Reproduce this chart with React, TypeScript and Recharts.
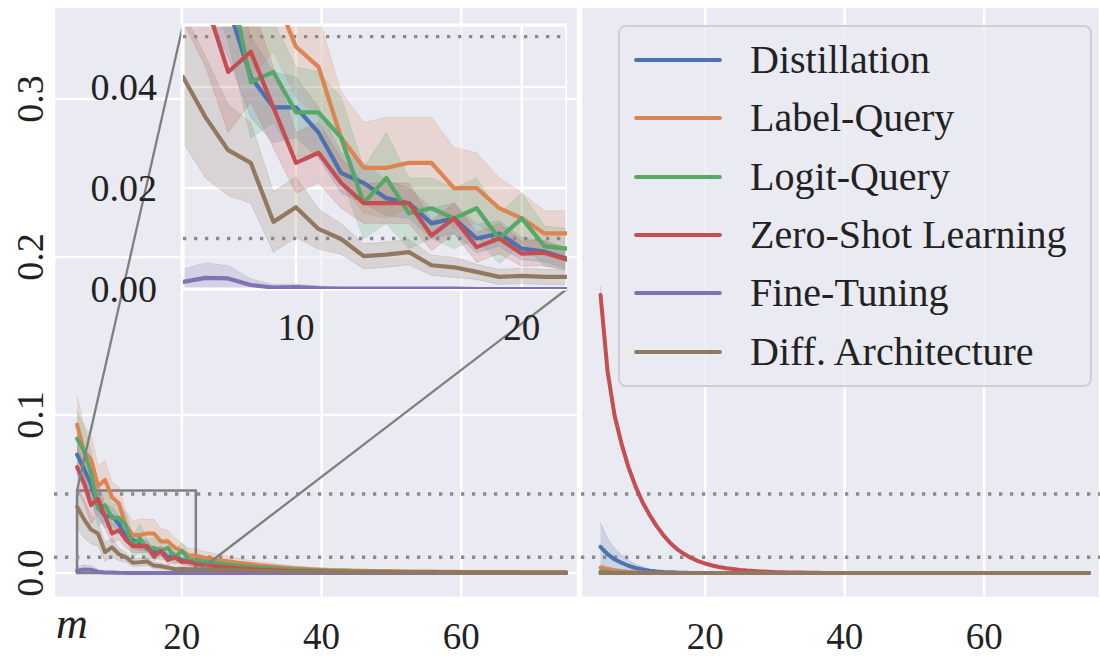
import React from "react";
import {
  ComposedChart,
  Line,
  Area,
  XAxis,
  YAxis,
  CartesianGrid,
  ReferenceLine,
  ReferenceArea,
} from "recharts";

// number of queries m (5 .. 75)
const mValues = [
  5, 6, 7, 8, 9, 10, 11, 12, 13, 14, 15, 16, 17, 18, 19, 20, 21, 22,
  23, 24, 25, 26, 27, 28, 29, 30, 31, 32, 33, 34, 35, 36, 37, 38, 39, 40,
  41, 42, 43, 44, 45, 46, 47, 48, 49, 50, 51, 52, 53, 54, 55, 56, 57, 58,
  59, 60, 61, 62, 63, 64, 65, 66, 67, 68, 69, 70, 71, 72, 73, 74, 75,
];

// ---- left panel: means ----
const distillation = [
  .075, .066, .056, .042, .036, .036, .031, .023, .021, .018, .017, .013, .014, .010, .011, .008, .0074, .006,
  .0055, .005, .0045, .004, .0036, .0032, .0029, .0026, .0023, .002, .0018, .0016, .0014, .0013, .0012, .0011, .001, .0009,
  .0008, .0008, .0007, .0007, .0006, .0006, .0005, .0005, .0005, .0004, .0004, .0004, .0003, .0003, .0003, .0003, .0003, .0002,
  .0002, .0002, .0002, .0002, .0002, .0002, .0001, .0001, .0001, .0001, .0001, .0001, .0001, .0001, .0001, .0001, .0001,
];
const labelQuery = [
  .094, .077, .072, .055, .059, .048, .044, .030, .024, .024, .025, .025, .020, .020, .016, .014, .011, .011,
  .0098, .0092, .0085, .0078, .0072, .0065, .006, .0055, .005, .0046, .0042, .0038, .0034, .003, .0028, .0025, .0023, .0021,
  .0019, .0018, .0017, .0016, .0015, .0014, .0013, .0012, .0012, .0011, .0011, .001, .001, .0009, .0009, .0009, .0008, .0008,
  .0008, .0007, .0007, .0007, .0007, .0006, .0006, .0006, .0006, .0006, .0005, .0005, .0005, .0005, .0005, .0005, .0005,
];
const logitQuery = [
  .085, .077, .063, .041, .043, .035, .035, .030, .017, .022, .015, .016, .014, .016, .010, .014, .0085, .008,
  .0075, .007, .0064, .0058, .0053, .0048, .0044, .004, .0036, .0033, .003, .0027, .0025, .0023, .0021, .0019, .0017, .0015,
  .0014, .0013, .0012, .0011, .001, .001, .0009, .0009, .0008, .0008, .0007, .0007, .0007, .0006, .0006, .0006, .0005, .0005,
  .0005, .0005, .0004, .0004, .0004, .0004, .0004, .0003, .0003, .0003, .0003, .0003, .0003, .0003, .0003, .0003, .0003,
];
const zeroShot = [
  .067, .057, .043, .047, .036, .025, .027, .021, .017, .017, .017, .0106, .014, .0083, .010, .007, .0072, .0058,
  .0052, .0048, .0043, .0039, .0035, .0031, .0028, .0025, .0022, .002, .0018, .0016, .0014, .0013, .0012, .0011, .001, .0009,
  .0008, .0008, .0007, .0007, .0006, .0006, .0006, .0005, .0005, .0005, .0004, .0004, .0004, .0004, .0003, .0003, .0003, .0003,
  .0003, .0003, .0002, .0002, .0002, .0002, .0002, .0002, .0002, .0002, .0002, .0002, .0002, .0002, .0002, .0002, .0002,
];
const fineTuning = [
  .0014, .0022, .0021, .0008, .0003, .0004, .0002, .0001, .0001, .0001, .0001, .0001, .0001, 0, 0, 0, 0, 0,
  0, 0, 0, 0, 0, 0, 0, 0, 0, 0, 0, 0, 0, 0, 0, 0, 0, 0,
  0, 0, 0, 0, 0, 0, 0, 0, 0, 0, 0, 0, 0, 0, 0, 0, 0, 0,
  0, 0, 0, 0, 0, 0, 0, 0, 0, 0, 0, 0, 0, 0, 0, 0, 0,
];
const diffArch = [
  .042, .034, .0275, .025, .0133, .0162, .0119, .0099, .0065, .0068, .0073, .0047, .0043, .0034, .0024, .0026, .0024, .0024,
  .0022, .0021, .002, .0019, .0018, .0017, .0016, .0015, .0014, .0013, .0012, .0011, .001, .0009, .0009, .0008, .0008, .0007,
  .0007, .0006, .0006, .0006, .0005, .0005, .0005, .0004, .0004, .0004, .0004, .0003, .0003, .0003, .0003, .0003, .0003, .0002,
  .0002, .0002, .0002, .0002, .0002, .0002, .0002, .0002, .0002, .0002, .0002, .0002, .0002, .0002, .0002, .0002, .0002,
];

// ---- left panel: band half-widths ----
const distSpread = [
  .013, .012, .010, .008, .007, .006, .005, .004, .004, .0035, .003, .003, .003, .0028, .0025, .0022, .002, .002,
  .0018, .0017, .0016, .0015, .0014, .0013, .0012, .0011, .001, .0009, .0008, .0008, .0007, .0007, .0006, .0006, .0005, .0005,
  .0004, .0004, .0004, .0004, .0003, .0003, .0003, .0003, .0003, .0003, .0002, .0002, .0002, .0002, .0002, .0002, .0002, .0002,
  .0002, .0002, .0001, .0001, .0001, .0001, .0001, .0001, .0001, .0001, .0001, .0001, .0001, .0001, .0001, .0001, .0001,
];
const labelSpread = [
  .018, .016, .015, .013, .012, .010, .010, .009, .009, .010, .009, .009, .008, .007, .006, .005, .0045, .0045,
  .004, .0038, .0035, .0032, .003, .0028, .0026, .0024, .0022, .002, .0019, .0018, .0017, .0016, .0015, .0014, .0013, .0012,
  .0011, .0011, .001, .001, .0009, .0009, .0009, .0008, .0008, .0008, .0007, .0007, .0007, .0006, .0006, .0006, .0006, .0005,
  .0005, .0005, .0005, .0005, .0005, .0005, .0005, .0005, .0005, .0005, .0005, .0005, .0005, .0005, .0005, .0005, .0005,
];
const logitSpread = [
  .018, .016, .014, .011, .010, .009, .008, .008, .007, .009, .007, .006, .006, .006, .005, .005, .004, .004,
  .0036, .0033, .003, .0028, .0026, .0024, .0022, .002, .0019, .0018, .0017, .0016, .0015, .0014, .0013, .0012, .0011, .001,
  .001, .0009, .0009, .0008, .0008, .0008, .0007, .0007, .0007, .0006, .0006, .0006, .0005, .0005, .0005, .0005, .0005, .0004,
  .0004, .0004, .0004, .0004, .0004, .0004, .0004, .0004, .0004, .0004, .0004, .0004, .0004, .0004, .0004, .0004, .0004,
];
const zeroSpread = [
  .014, .013, .012, .010, .008, .006, .006, .005, .004, .004, .004, .003, .003, .003, .003, .0025, .0025, .0022,
  .002, .0019, .0018, .0017, .0016, .0015, .0014, .0013, .0012, .0011, .001, .0009, .0008, .0008, .0007, .0007, .0006, .0006,
  .0005, .0005, .0005, .0005, .0004, .0004, .0004, .0004, .0004, .0003, .0003, .0003, .0003, .0003, .0003, .0002, .0002, .0002,
  .0002, .0002, .0002, .0002, .0002, .0002, .0002, .0002, .0002, .0002, .0002, .0002, .0002, .0002, .0002, .0002, .0002,
];
const fineSpread = [
  .0025, .003, .0025, .0012, .0006, .0006, .0004, .0002, .0002, .0002, .0001, .0001, .0001, .0001, 0, 0, 0, 0,
  0, 0, 0, 0, 0, 0, 0, 0, 0, 0, 0, 0, 0, 0, 0, 0, 0, 0,
  0, 0, 0, 0, 0, 0, 0, 0, 0, 0, 0, 0, 0, 0, 0, 0, 0, 0,
  0, 0, 0, 0, 0, 0, 0, 0, 0, 0, 0, 0, 0, 0, 0, 0, 0,
];
const diffSpread = [
  .013, .012, .009, .008, .006, .006, .004, .003, .0025, .0025, .0025, .002, .002, .0015, .0015, .0015, .0015, .0015,
  .0014, .0013, .0012, .0011, .001, .001, .0009, .0009, .0008, .0008, .0007, .0007, .0006, .0006, .0006, .0005, .0005, .0005,
  .0004, .0004, .0004, .0004, .0003, .0003, .0003, .0003, .0003, .0003, .0003, .0002, .0002, .0002, .0002, .0002, .0002, .0002,
  .0002, .0002, .0002, .0002, .0002, .0002, .0002, .0002, .0002, .0002, .0002, .0002, .0002, .0002, .0002, .0002, .0002,
];

// ---- right panel: means ----
const rDistillation = [
  .0166, .012, .0087, .0065, .0046, .0032, .0022, .0014, .001, .0007, .0005, .0003, .0002, .0001, .0001, 0, 0, 0,
  0, 0, 0, 0, 0, 0, 0, 0, 0, 0, 0, 0, 0, 0, 0, 0, 0, 0,
  0, 0, 0, 0, 0, 0, 0, 0, 0, 0, 0, 0, 0, 0, 0, 0, 0, 0,
  0, 0, 0, 0, 0, 0, 0, 0, 0, 0, 0, 0, 0, 0, 0, 0, 0,
];
const rLabelQuery = [
  .0035, .0025, .0018, .0012, .0008, .0005, .0003, .0002, .0001, 0, 0, 0, 0, 0, 0, 0, 0, 0,
  0, 0, 0, 0, 0, 0, 0, 0, 0, 0, 0, 0, 0, 0, 0, 0, 0, 0,
  0, 0, 0, 0, 0, 0, 0, 0, 0, 0, 0, 0, 0, 0, 0, 0, 0, 0,
  0, 0, 0, 0, 0, 0, 0, 0, 0, 0, 0, 0, 0, 0, 0, 0, 0,
];
const rLogitQuery = [
  .0012, .0008, .0005, .0003, .0002, .0001, 0, 0, 0, 0, 0, 0, 0, 0, 0, 0, 0, 0,
  0, 0, 0, 0, 0, 0, 0, 0, 0, 0, 0, 0, 0, 0, 0, 0, 0, 0,
  0, 0, 0, 0, 0, 0, 0, 0, 0, 0, 0, 0, 0, 0, 0, 0, 0, 0,
  0, 0, 0, 0, 0, 0, 0, 0, 0, 0, 0, 0, 0, 0, 0, 0, 0,
];
const rZeroShot = [
  .176, .128, .100, .082, .067, .055, .045, .037, .030, .024, .019, .015, .012, .0095, .0075, .006, .0048, .0038,
  .003, .0025, .002, .0016, .0013, .001, .0008, .0006, .0005, .0004, .0003, .0003, .0002, .0002, .0001, .0001, .0001, .0001,
  0, 0, 0, 0, 0, 0, 0, 0, 0, 0, 0, 0, 0, 0, 0, 0, 0, 0,
  0, 0, 0, 0, 0, 0, 0, 0, 0, 0, 0, 0, 0, 0, 0, 0, 0,
];
const rFlat = [
  0, 0, 0, 0, 0, 0, 0, 0, 0, 0, 0, 0, 0, 0, 0, 0, 0, 0,
  0, 0, 0, 0, 0, 0, 0, 0, 0, 0, 0, 0, 0, 0, 0, 0, 0, 0,
  0, 0, 0, 0, 0, 0, 0, 0, 0, 0, 0, 0, 0, 0, 0, 0, 0, 0,
  0, 0, 0, 0, 0, 0, 0, 0, 0, 0, 0, 0, 0, 0, 0, 0, 0,
];

// ---- right panel: band half-widths ----
const rDistSpread = [
  .015, .010, .007, .005, .0035, .0025, .0018, .0012, .0008, .0005, .0004, .0003, .0002, .0001, .0001, 0, 0, 0,
  0, 0, 0, 0, 0, 0, 0, 0, 0, 0, 0, 0, 0, 0, 0, 0, 0, 0,
  0, 0, 0, 0, 0, 0, 0, 0, 0, 0, 0, 0, 0, 0, 0, 0, 0, 0,
  0, 0, 0, 0, 0, 0, 0, 0, 0, 0, 0, 0, 0, 0, 0, 0, 0,
];
const rLabelSpread = [
  .002, .0015, .001, .0008, .0005, .0003, .0002, .0001, 0, 0, 0, 0, 0, 0, 0, 0, 0, 0,
  0, 0, 0, 0, 0, 0, 0, 0, 0, 0, 0, 0, 0, 0, 0, 0, 0, 0,
  0, 0, 0, 0, 0, 0, 0, 0, 0, 0, 0, 0, 0, 0, 0, 0, 0, 0,
  0, 0, 0, 0, 0, 0, 0, 0, 0, 0, 0, 0, 0, 0, 0, 0, 0,
];
const rZeroSpread = [
  .006, .005, .004, .0035, .003, .0025, .002, .0015, .0015, .001, .001, .001, .0008, .0006, .0005, .0004, .0003, .0003,
  .0002, .0002, .0002, .0001, .0001, .0001, 0, 0, 0, 0, 0, 0, 0, 0, 0, 0, 0, 0,
  0, 0, 0, 0, 0, 0, 0, 0, 0, 0, 0, 0, 0, 0, 0, 0, 0, 0,
  0, 0, 0, 0, 0, 0, 0, 0, 0, 0, 0, 0, 0, 0, 0, 0, 0,
];

const xTicks = [20, 40, 60];
const yTicks = [0, 0.1, 0.2, 0.3];
const insetXTicks = [10, 20];
const insetYTicks = [0, 0.02, 0.04];
const thresholds = [0.05, 0.01];

const SERIES = [
  { key: "dist", name: "Distillation", color: "#4C72B0" },
  { key: "label", name: "Label-Query", color: "#DD8452" },
  { key: "logit", name: "Logit-Query", color: "#55A868" },
  { key: "zero", name: "Zero-Shot Learning", color: "#C44E52" },
  { key: "fine", name: "Fine-Tuning", color: "#8172B3" },
  { key: "diff", name: "Diff. Architecture", color: "#937860" },
];

const band = (mean: number, s: number) => [Math.max(0, mean - s), mean + s];

function buildRows(means: number[][], spreads: number[][]) {
  return mValues.map((m, i) => {
    const row: any = { m };
    SERIES.forEach((s, k) => {
      row[s.key] = means[k][i];
      row[s.key + "Band"] = band(means[k][i], spreads[k][i]);
    });
    return row;
  });
}

const leftRows = buildRows(
  [distillation, labelQuery, logitQuery, zeroShot, fineTuning, diffArch],
  [distSpread, labelSpread, logitSpread, zeroSpread, fineSpread, diffSpread]
);
const rightRows = buildRows(
  [rDistillation, rLabelQuery, rLogitQuery, rZeroShot, rFlat, rFlat],
  [rDistSpread, rLabelSpread, rFlat, rZeroSpread, rFlat, rFlat]
);

// ---- layout ----
const FONT = '"Liberation Serif", "DejaVu Serif", serif';
const BG = "#EAEAF2";
const DOT = "#8a8a8a";
const FRAME = "#7f7f7f";
const H = 658;
const PLOT_TOP = 7;
const PLOT_BOTTOM = 598;
const LEFT_X0 = 54;
const LEFT_X1 = 578;
const RIGHT_X0 = 581;
const RIGHT_X1 = 1100;
const Y_DOMAIN: [number, number] = [-0.0158, 0.3582];
const LEFT_DOMAIN: [number, number] = [1.7, 76.7];
const RIGHT_DOMAIN: [number, number] = [2.2, 76.6];
const INSET_BOX = { x0: 183, x1: 567, y0: 25, y1: 289 };
const INSET_LEFT = 80;
const INSET_TOP = 20;
const INSET_X: [number, number] = [5, 22];
const INSET_Y: [number, number] = [0, 0.0523];

// pixel -> data for the left panel (for the inset connector lines)
const pxToX = (px: number) =>
  LEFT_DOMAIN[0] + ((px - LEFT_X0) / (LEFT_X1 - LEFT_X0)) * (LEFT_DOMAIN[1] - LEFT_DOMAIN[0]);
const pyToY = (py: number) =>
  Y_DOMAIN[1] - ((py - PLOT_TOP) / (PLOT_BOTTOM - PLOT_TOP)) * (Y_DOMAIN[1] - Y_DOMAIN[0]);

const XTick = (props: any) => {
  const { x, y, payload } = props;
  return (
    <text x={x} y={y + 51} textAnchor="middle" fontFamily={FONT} fontSize={37} fill="#222">
      {payload.value}
    </text>
  );
};

const YTickRot = (props: any) => {
  const { x, y, payload } = props;
  const tx = x - 11;
  return (
    <text
      x={tx}
      y={y}
      transform={`rotate(-90, ${tx}, ${y})`}
      textAnchor="middle"
      fontFamily={FONT}
      fontSize={38}
      fill="#222"
    >
      {Number(payload.value).toFixed(1)}
    </text>
  );
};

const InsetYTick = (props: any) => {
  const { x, y, payload } = props;
  return (
    <text x={x - 26} y={y + 13} textAnchor="end" fontFamily={FONT} fontSize={38} fill="#222">
      {Number(payload.value).toFixed(2)}
    </text>
  );
};

function seriesMarks(width: number) {
  const out: any[] = [];
  SERIES.forEach((s) => {
    out.push(
      <Area
        key={s.key + "-band"}
        type="linear"
        dataKey={s.key + "Band"}
        fill={s.color}
        fillOpacity={0.2}
        stroke={s.color}
        strokeOpacity={0.2}
        strokeWidth={1}
        dot={false}
        activeDot={false}
        legendType="none"
        isAnimationActive={false}
      />
    );
    out.push(
      <Line
        key={s.key + "-line"}
        type="linear"
        dataKey={s.key}
        name={s.name}
        stroke={s.color}
        strokeWidth={width}
        strokeLinejoin="round"
        strokeLinecap="round"
        dot={false}
        activeDot={false}
        isAnimationActive={false}
      />
    );
  });
  return out;
}

function thresholdLines() {
  return thresholds.map((t) => (
    <ReferenceLine key={"t" + t} y={t} stroke={DOT} strokeWidth={3.3} strokeDasharray="3.3 7.7" />
  ));
}

function LegendBox() {
  return (
    <div
      style={{
        position: "absolute",
        left: 618,
        top: 25,
        width: 470,
        height: 358,
        border: "2px solid #cfcfd4",
        borderRadius: 8,
        background: "rgba(234,234,242,0.8)",
        fontFamily: FONT,
        fontSize: 40,
        color: "#222",
      }}
    >
      {SERIES.map((s, i) => (
        <div
          key={s.key}
          style={{
            position: "absolute",
            left: 0,
            top: 33 + i * 58.3 - 29,
            height: 58,
            display: "flex",
            alignItems: "center",
            whiteSpace: "nowrap",
          }}
        >
          <svg width={130} height={58} style={{ display: "block" }}>
            <line x1={16} x2={100} y1={29} y2={29} stroke={s.color} strokeWidth={3.8} strokeLinecap="round" />
          </svg>
          <span style={{ lineHeight: "58px" }}>{s.name}</span>
        </div>
      ))}
    </div>
  );
}

export default function App() {
  return (
    <div style={{ position: "relative", width: 1100, height: H, background: "#fff", overflow: "hidden" }}>
      <style>{"body{margin:0}"}</style>

      {/* left panel */}
      <div style={{ position: "absolute", left: 0, top: 0 }}>
        <ComposedChart
          width={LEFT_X1}
          height={H}
          data={leftRows}
          margin={{ top: PLOT_TOP, right: 0, bottom: 0, left: 0 }}
        >
          <CartesianGrid fill={BG} stroke="#fff" strokeWidth={2.5} />
          <XAxis
            dataKey="m"
            type="number"
            domain={LEFT_DOMAIN}
            ticks={xTicks}
            height={H - PLOT_BOTTOM}
            tick={<XTick />}
            tickLine={false}
            axisLine={false}
            tickSize={0}
            tickMargin={0}
          />
          <YAxis
            type="number"
            domain={Y_DOMAIN}
            ticks={yTicks}
            width={LEFT_X0}
            tick={<YTickRot />}
            tickLine={false}
            axisLine={false}
            tickSize={0}
            tickMargin={0}
            allowDataOverflow
          />
          {thresholdLines()}
          {seriesMarks(4)}
          <ReferenceArea
            x1={INSET_X[0]}
            x2={INSET_X[1]}
            y1={INSET_Y[0]}
            y2={INSET_Y[1]}
            fill="none"
            stroke={FRAME}
            strokeWidth={2.5}
          />
          <ReferenceLine
            segment={[
              { x: INSET_X[0], y: INSET_Y[1] },
              { x: pxToX(INSET_BOX.x0), y: pyToY(INSET_BOX.y0) },
            ]}
            stroke={FRAME}
            strokeWidth={2.3}
          />
          <ReferenceLine
            segment={[
              { x: INSET_X[1], y: INSET_Y[0] },
              { x: pxToX(INSET_BOX.x1), y: pyToY(INSET_BOX.y1) },
            ]}
            stroke={FRAME}
            strokeWidth={2.3}
          />
        </ComposedChart>
      </div>

      {/* right panel */}
      <div style={{ position: "absolute", left: RIGHT_X0, top: 0 }}>
        <ComposedChart
          width={RIGHT_X1 - RIGHT_X0}
          height={H}
          data={rightRows}
          margin={{ top: PLOT_TOP, right: 0, bottom: 0, left: 0 }}
        >
          <CartesianGrid fill={BG} stroke="#fff" strokeWidth={2.5} />
          <XAxis
            dataKey="m"
            type="number"
            domain={RIGHT_DOMAIN}
            ticks={xTicks}
            height={H - PLOT_BOTTOM}
            tick={<XTick />}
            tickLine={false}
            axisLine={false}
            tickSize={0}
            tickMargin={0}
          />
          <YAxis type="number" domain={Y_DOMAIN} ticks={yTicks} width={0} tick={false} axisLine={false} tickLine={false} />
          {thresholdLines()}
          {seriesMarks(4)}
        </ComposedChart>
      </div>

      {/* inset zoom */}
      <div style={{ position: "absolute", left: INSET_LEFT, top: INSET_TOP }}>
        <ComposedChart
          width={INSET_BOX.x1 - INSET_LEFT}
          height={INSET_BOX.y1 - INSET_TOP + 60}
          data={leftRows}
          margin={{ top: INSET_BOX.y0 - INSET_TOP, right: 0, bottom: 0, left: 0 }}
        >
          <CartesianGrid fill={BG} fillOpacity={0.55} stroke="#fff" strokeWidth={2.5} />
          <XAxis
            dataKey="m"
            type="number"
            domain={INSET_X}
            ticks={insetXTicks}
            height={60}
            tick={<XTick />}
            tickLine={false}
            axisLine={false}
            tickSize={0}
            tickMargin={0}
            allowDataOverflow
          />
          <YAxis
            type="number"
            domain={INSET_Y}
            ticks={insetYTicks}
            width={INSET_BOX.x0 - INSET_LEFT}
            tick={<InsetYTick />}
            tickLine={false}
            axisLine={false}
            tickSize={0}
            tickMargin={0}
            allowDataOverflow
          />
          {thresholdLines()}
          {seriesMarks(4.2)}
          <ReferenceArea
            x1={INSET_X[0]}
            x2={INSET_X[1]}
            y1={INSET_Y[0]}
            y2={INSET_Y[1]}
            fill="none"
            stroke="#fff"
            strokeWidth={3}
          />
        </ComposedChart>
      </div>

      <LegendBox />

      <svg width={100} height={58} style={{ position: "absolute", left: 48, top: 598 }}>
        <text x={8} y={40} fontFamily={FONT} fontStyle="italic" fontSize={44} fill="#222">
          m
        </text>
      </svg>
    </div>
  );
}
